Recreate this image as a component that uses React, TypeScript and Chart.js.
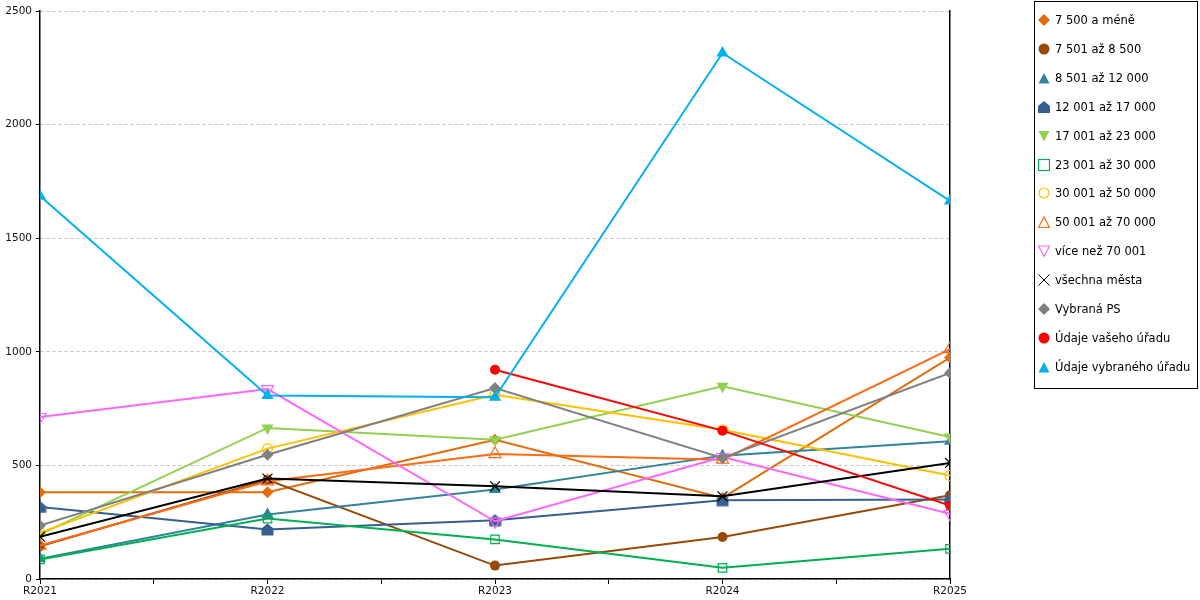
import { useEffect, useRef } from "react";
import { Chart, registerables } from "chart.js";

Chart.register(...registerables);

const years = ["R2021", "R2022", "R2023", "R2024", "R2025"];

const seriesNames = [
  "7 500 a méně",
  "7 501 až 8 500",
  "8 501 až 12 000",
  "12 001 až 17 000",
  "17 001 až 23 000",
  "23 001 až 30 000",
  "30 001 až 50 000",
  "50 001 až 70 000",
  "více než 70 001",
  "všechna města",
  "Vybraná PS",
  "Údaje vašeho úřadu",
  "Údaje vybraného úřadu",
];

const upTo7500 = [382, 382, 613, 357, 975];
const from7501 = [144, 437, 59, 185, 369];
const from8501 = [89, 284, 394, 543, 606];
const from12001 = [317, 218, 259, 347, 350];
const from17001 = [196, 665, 613, 848, 625];
const from23001 = [86, 266, 174, 49, 133];
const from30001 = [203, 574, 811, 657, 455];
const from50001 = [147, 430, 550, 525, 1012];
const over70001 = [713, 836, 254, 537, 287];
const allCities = [186, 442, 408, 364, 511];
const selectedPS = [235, 547, 841, 533, 907];
const yourOffice = [null, null, 921, 653, 323];
const selectedOffice = [1686, 808, 800, 2315, 1664];

const yTicks = [0, 500, 1000, 1500, 2000, 2500];

type Marker = "diamond" | "circle" | "triangle" | "house" | "down" | "square" | "x";

const styles: { color: string; marker: Marker; hollow?: boolean }[] = [
  { color: "#E46C0A", marker: "diamond" },
  { color: "#984807", marker: "circle" },
  { color: "#31849B", marker: "triangle" },
  { color: "#365F91", marker: "house" },
  { color: "#92D050", marker: "down" },
  { color: "#00B050", marker: "square", hollow: true },
  { color: "#FFC000", marker: "circle", hollow: true },
  { color: "#FF6A13", marker: "triangle", hollow: true },
  { color: "#FF66FF", marker: "down", hollow: true },
  { color: "#000000", marker: "x" },
  { color: "#808080", marker: "diamond" },
  { color: "#FF0000", marker: "circle" },
  { color: "#00B0F0", marker: "triangle" },
];

const values = [
  upTo7500, from7501, from8501, from12001, from17001, from23001, from30001,
  from50001, over70001, allCities, selectedPS, yourOffice, selectedOffice,
];

function houseCanvas(color: string) {
  const c = document.createElement("canvas");
  c.width = 13;
  c.height = 13;
  const ctx = c.getContext("2d")!;
  ctx.fillStyle = color;
  ctx.beginPath();
  ctx.moveTo(6.5, 0.5);
  ctx.lineTo(12.5, 5.5);
  ctx.lineTo(12.5, 12.5);
  ctx.lineTo(0.5, 12.5);
  ctx.lineTo(0.5, 5.5);
  ctx.closePath();
  ctx.fill();
  return c;
}

function LegendMarker({ color, marker, hollow }: { color: string; marker: Marker; hollow?: boolean }) {
  const fill = hollow ? "none" : color;
  const sw = hollow ? 1.2 : 0;
  let shape;
  if (marker === "diamond") shape = <polygon points="6,0 12,6 6,12 0,6" fill={fill} />;
  else if (marker === "circle") shape = <circle cx="6" cy="6" r={hollow ? 5 : 5.5} fill={fill} stroke={color} strokeWidth={sw} />;
  else if (marker === "triangle") shape = <polygon points="6,1 11.5,11.5 0.5,11.5" fill={fill} stroke={color} strokeWidth={sw} />;
  else if (marker === "house") shape = <polygon points="6,0 12,5 12,12 0,12 0,5" fill={fill} />;
  else if (marker === "down") shape = <polygon points="0.5,1 11.5,1 6,11.5" fill={fill} stroke={color} strokeWidth={sw} />;
  else if (marker === "square") shape = <rect x="0.5" y="0.5" width="11" height="11" fill="none" stroke={color} strokeWidth={1.2} />;
  else
    shape = (
      <g stroke={color} strokeWidth={1}>
        <line x1="0.5" y1="0.5" x2="11.5" y2="11.5" />
        <line x1="11.5" y1="0.5" x2="0.5" y2="11.5" />
      </g>
    );
  return (
    <svg width="12" height="12" style={{ marginRight: 5, flex: "none" }}>
      {shape}
    </svg>
  );
}

export default function App() {
  const canvasRef = useRef<HTMLCanvasElement | null>(null);

  useEffect(() => {
    if (!canvasRef.current) return;
    const n = seriesNames.length;
    const datasets = seriesNames.map((name, i) => {
      const s = styles[i];
      let pointStyle: any = "circle";
      let rotation = 0;
      let radius = 5;
      if (s.marker === "diamond") { pointStyle = "rectRot"; radius = 6; }
      else if (s.marker === "triangle") { pointStyle = "triangle"; radius = 7; }
      else if (s.marker === "down") { pointStyle = "triangle"; rotation = 180; radius = 7; }
      else if (s.marker === "square") { pointStyle = "rect"; radius = 6; }
      else if (s.marker === "x") { pointStyle = "crossRot"; radius = 7; }
      else if (s.marker === "house") { pointStyle = houseCanvas(s.color); }
      return {
        label: name,
        data: values[i].map((v, k) => ({ x: k, y: v })),
        borderColor: s.color,
        backgroundColor: s.hollow ? "rgba(0,0,0,0)" : s.color,
        pointBorderColor: s.color,
        pointBackgroundColor: s.hollow ? "rgba(0,0,0,0)" : s.color,
        pointBorderWidth: s.hollow || s.marker === "x" ? 1.2 : 0,
        borderWidth: 2,
        pointStyle,
        pointRotation: rotation,
        pointRadius: radius,
        tension: 0,
        spanGaps: false,
        order: n - i,
      };
    });

    const chart = new Chart(canvasRef.current, {
      type: "line",
      data: { datasets },
      options: {
        animation: false,
        responsive: false,
        layout: { padding: { top: 11, left: 0, right: 0, bottom: 0 } },
        plugins: { legend: { display: false }, tooltip: { enabled: false } },
        scales: {
          x: {
            type: "linear",
            min: 0,
            max: years.length - 1,
            afterFit: (scale: any) => { scale.height = 21; },
            afterBuildTicks: (scale: any) => {
              const t = [];
              for (let k = 0; k <= (years.length - 1) * 2; k++) t.push({ value: k / 2 });
              scale.ticks = t;
            },
            ticks: {
              autoSkip: false,
              maxRotation: 0,
              padding: 1,
              color: "#111",
              font: { family: "DejaVu Sans", size: 10.5 },
              callback: (v: any) => (Number.isInteger(v) ? years[v] : ""),
            },
            grid: { drawOnChartArea: false, tickLength: 5, tickColor: "#000" },
            border: { color: "#000", width: 1.5 },
          },
          y: {
            min: 0,
            max: 2500,
            afterFit: (scale: any) => { scale.width = 40; },
            afterBuildTicks: (scale: any) => { scale.ticks = yTicks.map((v) => ({ value: v })); },
            ticks: {
              padding: 4,
              color: "#111",
              font: { family: "DejaVu Sans", size: 10.5 },
              callback: (v: any) => String(v),
            },
            grid: {
              color: "#c0c0c0",
              tickColor: "#000",
              tickLength: 4,
              tickBorderDash: [],
            } as any,
            border: { color: "#000", width: 1.5, dash: [3, 3] } as any,
          },
          y2: {
            position: "right",
            min: 0,
            max: 2500,
            afterFit: (scale: any) => { scale.width = 250; },
            ticks: { display: false },
            grid: { display: false },
            border: { color: "#000", width: 1.5 },
          },
        },
      },
    });

    return () => {
      chart.destroy();
    };
  }, []);

  return (
    <div
      style={{
        position: "fixed",
        left: 0,
        top: 0,
        width: 1200,
        height: 600,
        background: "#fff",
        fontFamily: "DejaVu Sans",
      }}
    >
      <canvas ref={canvasRef} width={1200} height={600} style={{ position: "absolute", left: 0, top: 0 }} />
      <div
        style={{
          position: "absolute",
          left: 1034,
          top: 1,
          width: 162,
          height: 386,
          border: "1px solid #000",
          boxSizing: "content-box",
        }}
      >
        {seriesNames.map((name, i) => (
          <div
            key={name}
            style={{
              position: "absolute",
              left: 3,
              top: 11 + i * 28.9,
              height: 14,
              display: "flex",
              alignItems: "center",
              fontSize: 11.5,
              whiteSpace: "nowrap",
              color: "#000",
            }}
          >
            <LegendMarker {...styles[i]} />
            <span>{name}</span>
          </div>
        ))}
      </div>
    </div>
  );
}
